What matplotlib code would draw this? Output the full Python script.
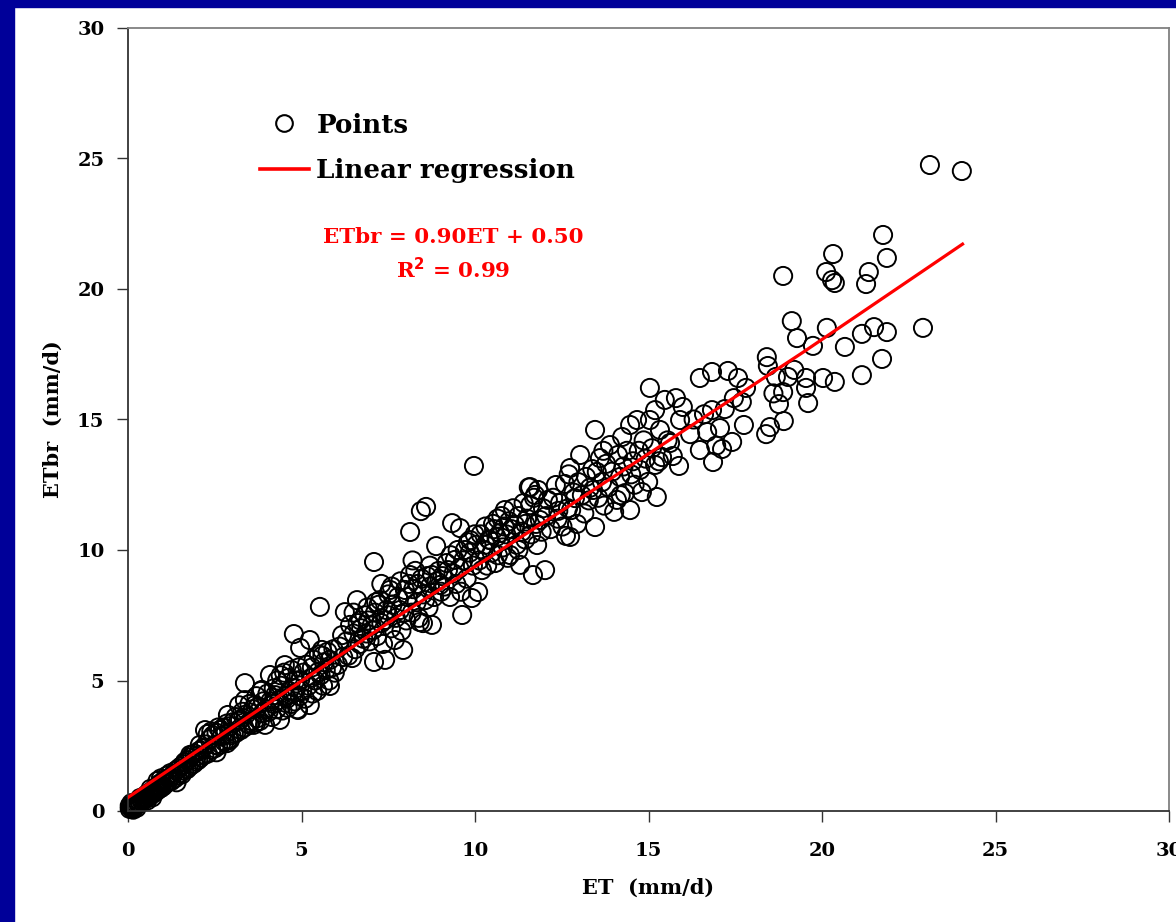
import matplotlib.pyplot as plt
from matplotlib.lines import Line2D
from matplotlib.patches import Rectangle

pts_00_02 = [
    (0.05, 0.08), (0.08, 0.15), (0.10, 0.12), (0.12, 0.20), (0.15, 0.10), (0.18, 0.25),
    (0.20, 0.18), (0.22, 0.30), (0.25, 0.22), (0.28, 0.35), (0.30, 0.28), (0.32, 0.40),
    (0.35, 0.30), (0.38, 0.45), (0.40, 0.36), (0.42, 0.50), (0.45, 0.42), (0.48, 0.55),
    (0.50, 0.46), (0.52, 0.62), (0.55, 0.50), (0.58, 0.66), (0.60, 0.55), (0.62, 0.70),
    (0.65, 0.60), (0.68, 0.75), (0.70, 0.65), (0.72, 0.80), (0.75, 0.70), (0.78, 0.88),
    (0.80, 0.74), (0.82, 0.92), (0.85, 0.80), (0.88, 0.98), (0.90, 0.85), (0.92, 1.05),
    (0.95, 0.88), (0.98, 1.10), (0.15, 0.05), (0.05, 0.20), (0.10, 0.30), (0.25, 0.12),
    (0.35, 0.50), (0.55, 0.40), (0.65, 0.85), (0.85, 1.15), (0.95, 1.25), (0.70, 0.52),
    (1.02, 0.95), (1.05, 1.20), (1.08, 1.05), (1.12, 1.35), (1.15, 1.10), (1.20, 1.28),
    (1.22, 1.45), (1.25, 1.15), (1.30, 1.40), (1.35, 1.25), (1.38, 1.55), (1.42, 1.35),
    (1.45, 1.62), (1.50, 1.45), (1.52, 1.70), (1.55, 1.40), (1.60, 1.78), (1.62, 1.55),
    (1.65, 1.85), (1.70, 1.60), (1.72, 1.95), (1.75, 1.68), (1.80, 2.05), (1.82, 1.75),
    (1.85, 2.15), (1.90, 1.82), (1.92, 2.20), (1.95, 1.90), (1.98, 2.10), (1.40, 1.10),
    (1.64, 1.88), (1.79, 2.15),
]
pts_02_04 = [
    (2.02, 1.95), (2.05, 2.30), (2.07, 2.53), (2.10, 2.05), (2.15, 2.40), (2.20, 2.15),
    (2.22, 3.10), (2.25, 2.55), (2.30, 2.20), (2.35, 2.75), (2.40, 2.35), (2.45, 2.90),
    (2.50, 2.40), (2.51, 2.53), (2.55, 3.00), (2.60, 2.50), (2.65, 3.10), (2.68, 2.55),
    (2.70, 2.85), (2.75, 3.20), (2.78, 2.65), (2.80, 2.95), (2.85, 3.35), (2.88, 3.68),
    (2.90, 2.75), (2.94, 2.72), (2.95, 3.25), (2.98, 2.90), (2.30, 2.95), (2.55, 2.25),
    (2.85, 2.60), (2.60, 3.20), (2.40, 3.05),
    (3.02, 3.40), (3.05, 2.95), (3.10, 3.60), (3.12, 3.00), (3.18, 3.45), (3.23, 3.49),
    (3.25, 3.10), (3.30, 3.80), (3.35, 3.20), (3.37, 4.25), (3.37, 4.90), (3.40, 3.70),
    (3.45, 3.35), (3.50, 4.10), (3.55, 3.45), (3.60, 3.90), (3.62, 3.30), (3.66, 4.06),
    (3.70, 4.40), (3.72, 3.55), (3.75, 4.00), (3.80, 3.45), (3.83, 4.60), (3.86, 4.64),
    (3.88, 3.75), (3.90, 4.20), (3.95, 3.30), (3.98, 3.90), (3.50, 3.30), (3.20, 4.05),
    (3.70, 3.40),
]
pts_04_06 = [
    (4.02, 4.50), (4.05, 3.80), (4.09, 5.21), (4.10, 4.20), (4.15, 3.60), (4.20, 4.70),
    (4.24, 4.44), (4.28, 3.90), (4.30, 5.00), (4.35, 4.25), (4.38, 3.49), (4.40, 4.80),
    (4.45, 3.85), (4.50, 5.30), (4.52, 5.59), (4.55, 4.40), (4.60, 3.95), (4.62, 5.10),
    (4.65, 4.60), (4.70, 4.10), (4.72, 5.40), (4.75, 4.50), (4.78, 6.78), (4.80, 4.20),
    (4.82, 5.00), (4.85, 4.70), (4.88, 3.90), (4.90, 3.87), (4.92, 5.50), (4.95, 4.40),
    (4.96, 6.25), (4.96, 5.02), (4.20, 4.10), (4.40, 5.20), (4.58, 4.30),
    (5.02, 4.60), (5.05, 5.30), (5.10, 4.30), (5.15, 5.60), (5.20, 4.80), (5.24, 4.06),
    (5.24, 6.55), (5.28, 5.10), (5.32, 4.50), (5.35, 5.80), (5.40, 5.00), (5.45, 4.60),
    (5.48, 5.33), (5.50, 6.00), (5.53, 7.82), (5.55, 5.20), (5.59, 6.17), (5.62, 4.80),
    (5.65, 5.70), (5.70, 5.40), (5.75, 6.10), (5.80, 5.00), (5.82, 5.79), (5.82, 4.79),
    (5.88, 5.50), (5.92, 6.20), (5.96, 5.30), (5.30, 5.50), (5.60, 5.95),
]
pts_06_08 = [
    (6.05, 5.60), (6.10, 6.30), (6.17, 6.74), (6.20, 5.90), (6.25, 7.62), (6.30, 6.50),
    (6.35, 5.95), (6.40, 7.13), (6.46, 5.86), (6.50, 6.80), (6.55, 6.20), (6.60, 8.08),
    (6.62, 7.20), (6.68, 6.40), (6.72, 7.00), (6.78, 6.60), (6.82, 7.50), (6.88, 6.80),
    (6.92, 7.30), (6.96, 6.50), (6.50, 7.60), (6.90, 7.80), (6.70, 7.30),
    (7.02, 7.10), (7.06, 6.93), (7.09, 5.71), (7.09, 9.54), (7.12, 7.60), (7.18, 6.70),
    (7.22, 7.90), (7.26, 8.08), (7.30, 7.20), (7.35, 6.40), (7.41, 7.32), (7.41, 5.79),
    (7.45, 7.70), (7.50, 8.30), (7.55, 8.47), (7.58, 7.00), (7.62, 7.90), (7.69, 6.55),
    (7.72, 7.40), (7.78, 8.20), (7.84, 7.70), (7.88, 6.90), (7.93, 6.17), (7.96, 7.60),
    (7.98, 8.47), (7.30, 8.70), (7.60, 8.60), (7.85, 8.80), (7.15, 8.00), (7.50, 7.50),
]
pts_08_10 = [
    (8.02, 7.30), (8.06, 8.20), (8.10, 8.70), (8.13, 10.69), (8.13, 9.04), (8.18, 7.60),
    (8.22, 8.50), (8.28, 9.20), (8.32, 8.00), (8.38, 7.40), (8.41, 7.24), (8.44, 11.49),
    (8.46, 8.90), (8.50, 8.30), (8.56, 8.08), (8.59, 11.65), (8.62, 9.00), (8.66, 7.80),
    (8.70, 8.60), (8.76, 9.04), (8.76, 7.13), (8.82, 8.20), (8.88, 10.15), (8.90, 8.80),
    (8.95, 9.20), (8.99, 8.66), (8.20, 9.60), (8.50, 7.20), (8.70, 9.40), (8.35, 8.70),
    (9.02, 8.40), (9.06, 9.00), (9.12, 8.60), (9.18, 9.50), (9.22, 9.23), (9.28, 8.20),
    (9.34, 11.03), (9.38, 9.10), (9.42, 9.62), (9.46, 8.70), (9.50, 10.00), (9.55, 9.30),
    (9.57, 10.84), (9.63, 7.51), (9.66, 9.60), (9.71, 10.00), (9.76, 8.90), (9.80, 10.30),
    (9.86, 10.38), (9.91, 8.16), (9.94, 9.40), (9.97, 13.22), (9.99, 10.60), (9.30, 9.80),
    (9.60, 8.40), (9.85, 9.90),
]
pts_10_12 = [
    (10.04, 10.20), (10.09, 8.39), (10.12, 9.60), (10.16, 10.60), (10.20, 9.23), (10.25, 10.00),
    (10.30, 10.90), (10.35, 9.40), (10.40, 10.40), (10.43, 10.38), (10.48, 9.90), (10.52, 11.00),
    (10.58, 9.50), (10.62, 10.50), (10.66, 9.80), (10.72, 10.65), (10.76, 11.30), (10.80, 10.10),
    (10.86, 11.53), (10.90, 10.60), (10.94, 9.70), (10.98, 11.10), (10.30, 10.20), (10.55, 10.80),
    (10.85, 10.90), (10.65, 11.20),
    (11.01, 9.81), (11.05, 10.80), (11.10, 11.60), (11.15, 10.96), (11.20, 10.20), (11.25, 11.30),
    (11.30, 9.43), (11.35, 10.70), (11.40, 11.80), (11.45, 10.40), (11.50, 11.20), (11.55, 12.40),
    (11.59, 12.41), (11.59, 11.72), (11.62, 10.60), (11.67, 9.04), (11.73, 12.11), (11.76, 11.00),
    (11.79, 10.19), (11.82, 12.30), (11.87, 11.15), (11.92, 10.70), (11.96, 11.60), (11.25, 10.00),
    (11.45, 11.00), (11.70, 12.00),
]
pts_12_15 = [
    (12.02, 9.23), (12.05, 11.30), (12.10, 11.92), (12.18, 10.80), (12.25, 12.00), (12.33, 12.49),
    (12.38, 11.20), (12.45, 11.80), (12.52, 10.90), (12.59, 12.53), (12.62, 10.54), (12.68, 11.60),
    (12.74, 13.14), (12.74, 10.50), (12.77, 11.53), (12.84, 12.20), (12.88, 11.99), (12.94, 11.00),
    (12.98, 12.60), (12.40, 11.50), (12.70, 12.90),
    (13.03, 13.64), (13.08, 12.10), (13.15, 11.40), (13.20, 12.80), (13.28, 11.90), (13.31, 12.38),
    (13.38, 13.10), (13.46, 14.60), (13.46, 10.88), (13.51, 12.99), (13.55, 12.00), (13.60, 13.52),
    (13.66, 12.60), (13.72, 11.70), (13.78, 13.30), (13.85, 12.40), (13.89, 14.02), (13.95, 13.00),
    (13.40, 12.30), (13.70, 13.80),
    (14.01, 11.46), (14.09, 11.92), (14.12, 13.64), (14.18, 12.80), (14.24, 14.33), (14.28, 13.20),
    (14.32, 12.18), (14.38, 13.80), (14.47, 14.79), (14.47, 11.53), (14.55, 13.40), (14.60, 12.50),
    (14.67, 14.98), (14.72, 13.80), (14.76, 13.07), (14.81, 12.22), (14.86, 14.20), (14.92, 13.50),
    (14.99, 12.61), (14.20, 12.10), (14.50, 12.90),
]
pts_15_18 = [
    (15.04, 16.21), (15.04, 14.98), (15.10, 13.90), (15.19, 15.36), (15.19, 13.26), (15.24, 12.03),
    (15.33, 14.60), (15.39, 13.56), (15.47, 15.75), (15.55, 14.20), (15.62, 14.10), (15.70, 13.60),
    (15.79, 15.82), (15.88, 13.22), (15.91, 14.98), (15.99, 15.48), (15.30, 13.40),
    (16.20, 14.44), (16.48, 16.59), (16.48, 13.83), (16.69, 14.52), (16.83, 16.82), (16.83, 15.36),
    (16.86, 13.37), (17.06, 14.67), (17.12, 13.87), (17.29, 16.86), (17.41, 14.14), (17.46, 15.82),
    (17.58, 16.59), (17.69, 15.67), (17.75, 14.79), (17.81, 16.21), (16.60, 15.20), (16.95, 14.00),
    (17.20, 15.40), (16.30, 15.00),
]
pts_18_25 = [
    (18.39, 14.44), (18.41, 17.39), (18.44, 17.05), (18.50, 14.71), (18.67, 16.63), (18.76, 15.59),
    (18.88, 20.50), (18.88, 16.05), (18.90, 14.94), (19.02, 16.63), (19.13, 18.77), (19.28, 18.12),
    (19.54, 16.59), (19.54, 16.21), (19.60, 15.63), (19.74, 17.82), (18.60, 16.00), (19.20, 16.90),
    (20.03, 16.59), (20.12, 20.65), (20.14, 18.51), (20.29, 20.34), (20.32, 21.34), (20.37, 20.23),
    (20.37, 16.44), (20.66, 17.78), (21.15, 18.28), (21.15, 16.70), (21.27, 20.19), (21.35, 20.65),
    (21.50, 18.54), (21.73, 17.32), (21.76, 22.07), (21.87, 21.19), (21.87, 18.35), (22.91, 18.51),
    (23.11, 24.75), (24.03, 24.52),
]

# regression line as drawn in the figure
reg_et = [0.0, 7.84, 12.45, 19.47, 24.05]
reg_etbr = [0.52, 7.51, 11.46, 17.59, 21.72]

equation = 'ETbr = 0.90ET + 0.50'
r_squared = 'R$^{\\mathbf{2}}$ = 0.99'
ticks = [0, 5, 10, 15, 20, 25, 30]

plt.rcParams['font.family'] = ['DejaVu Serif']
plt.rcParams['font.weight'] = 'bold'

all_pts = (pts_00_02 + pts_02_04 + pts_04_06 + pts_06_08 + pts_08_10
           + pts_10_12 + pts_12_15 + pts_15_18 + pts_18_25)
et = [p[0] for p in all_pts]
etbr = [p[1] for p in all_pts]

fig = plt.figure(figsize=(11.76, 9.22), dpi=100)
ax = fig.add_axes([128 / 1176, 1 - 811 / 922, 1041 / 1176, 783 / 922])

ax.scatter(et, etbr, s=170, facecolors='none', edgecolors='black',
           linewidths=1.4, clip_on=False, zorder=2)
ax.plot(reg_et, reg_etbr, color='red', lw=2.3, zorder=3)

ax.set_xlim(0, 30)
ax.set_ylim(0, 30)
ax.set_xticks(ticks)
ax.set_yticks(ticks)
ax.tick_params(direction='out', length=8, width=1, color='#333333', labelsize=14)
ax.tick_params(axis='x', pad=14)
ax.tick_params(axis='y', pad=9)

for side in ['top', 'right']:
    ax.spines[side].set_color('#808080')
    ax.spines[side].set_linewidth(1.3)
for side in ['left', 'bottom']:
    ax.spines[side].set_color('#333333')
    ax.spines[side].set_linewidth(1.3)

ax.set_xlabel('ET  (mm/d)', fontsize=15, fontweight='bold', labelpad=13)
ax.set_ylabel('ETbr  (mm/d)', fontsize=15, fontweight='bold', labelpad=10)

# legend without frame
handles = [
    Line2D([], [], marker='o', ls='none', mfc='none', mec='black', ms=12, mew=1.5),
    Line2D([], [], color='red', lw=2.6),
]
ax.legend(handles, ['Points', 'Linear regression'], loc='upper left',
          bbox_to_anchor=(0.127, 0.892), frameon=False, fontsize=18.8,
          borderpad=0, borderaxespad=0, handlelength=1.85, handletextpad=0.3,
          labelspacing=0.8)

ax.text(0.312, 0.733, equation, transform=ax.transAxes, color='red',
        fontsize=15.4, fontweight='bold', ha='center', va='center')
ax.text(0.312, 0.692, r_squared, transform=ax.transAxes, color='red',
        fontsize=15.4, fontweight='bold', ha='center', va='center')

# navy frame on top and left edge
fig.patches.append(Rectangle((0, 1 - 7 / 922), 1, 7 / 922, transform=fig.transFigure,
                             color='#000099', zorder=10))
fig.patches.append(Rectangle((0, 0), 14 / 1176, 1, transform=fig.transFigure,
                             color='#000099', zorder=10))

fig.savefig('out.png', dpi=100)
